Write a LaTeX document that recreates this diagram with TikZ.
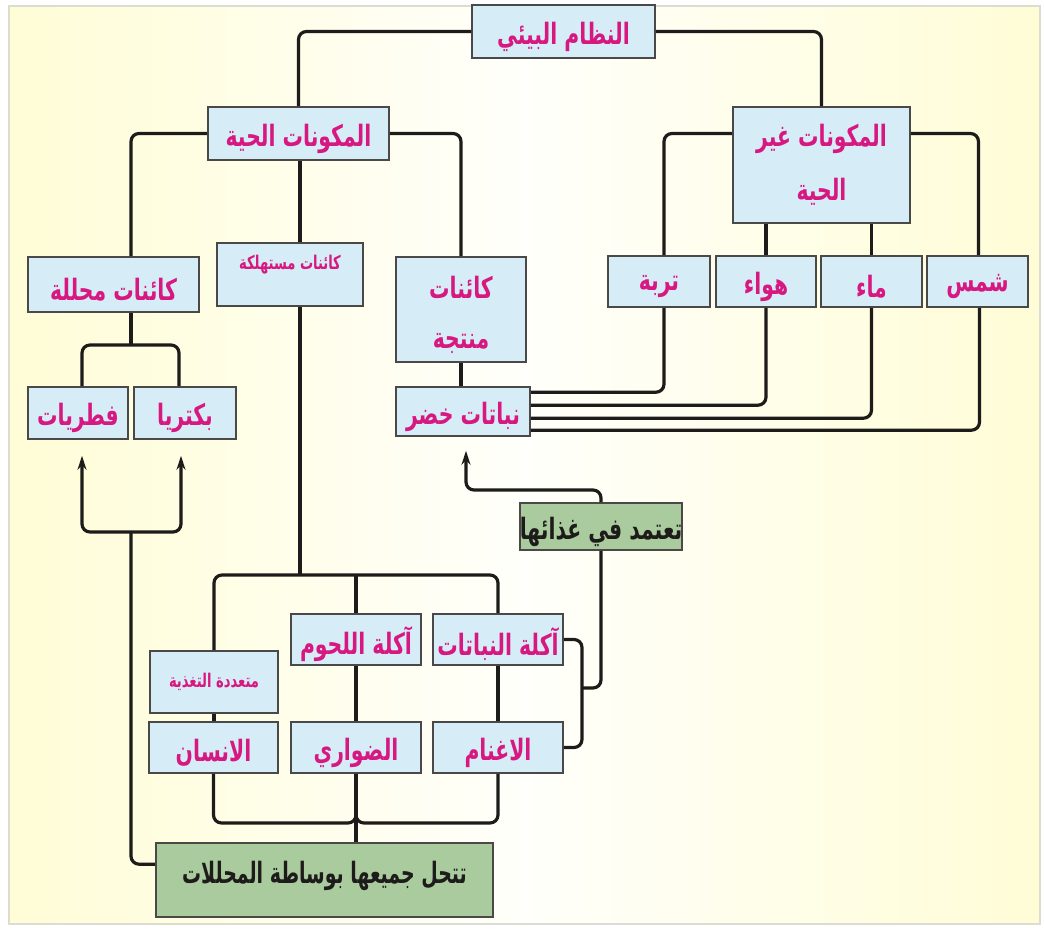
\documentclass[tikz,border=0pt]{standalone}
\usepackage{fontspec}
\usepackage{graphicx}
\newfontfamily\arabicfont[Script=Arabic]{DejaVu Sans}
\TeXXeTstate=1
\usetikzlibrary{arrows.meta,calc}
\definecolor{bgyel}{RGB}{255,253,214}
\definecolor{boxblue}{RGB}{214,236,247}
\definecolor{boxgreen}{RGB}{170,203,158}
\definecolor{txtmag}{RGB}{214,24,128}
\definecolor{linec}{RGB}{30,28,26}
\definecolor{framec}{RGB}{220,220,210}
% text with no vertical shift
\newcommand{\artxtn}[1]{\scalebox{0.97}[1.4]{\beginR #1\endR}}
% text lowered a little, as in the reference
\newcommand{\artxt}[1]{\raisebox{-5pt}[\height][\depth]{\artxtn{#1}}}
\tikzset{
  bx/.style={draw=linec!80, line width=1.6, fill=boxblue, text=txtmag,
    font=\arabicfont\bfseries\fontsize{21}{26}\selectfont, inner sep=0pt, align=center},
  smallbx/.style={bx, font=\arabicfont\bfseries\fontsize{13.5}{16}\selectfont},
  gbx/.style={bx, fill=boxgreen, text=linec},
  conn/.style={draw=linec, line width=3.2, rounded corners=8pt},
  arr/.style={conn, -{Stealth[length=14pt,width=9pt]}},
}
\begin{document}
\begin{tikzpicture}[x=1pt,y=-1pt]
\useasboundingbox (0,0) rectangle (1044,929);
\fill[white] (0,0) rectangle (1044,929);
\shade[left color=bgyel, right color=bgyel, middle color=bgyel!10!white] (9,6) rectangle (1040,924);
\draw[framec, line width=1.5] (9,6) rectangle (1040,924);

% top
\node[bx, minimum width=183, minimum height=53] (eco) at (563.5,31.5) {\artxt{النظام البيئي}};
\node[bx, minimum width=181, minimum height=53] (living) at (298.5,133.5) {\artxt{المكونات الحية}};
\node[bx, minimum width=177, minimum height=116] (nonliving) at (821.5,165) {\artxtn{المكونات غير}\\[24pt]\artxtn{الحية}};

% second level
\node[bx, minimum width=171, minimum height=55] (decomp) at (113.5,284.5) {\artxt{كائنات محللة}};
\node[smallbx, minimum width=146, minimum height=63] (consumer) at (290,274.5) {\raisebox{24pt}{\artxtn{كائنات مستهلكة}}};
\node[bx, minimum width=130, minimum height=105] (producer) at (461,309.5) {\artxt{كائنات}\\[24pt]\artxt{منتجة}};
\node[bx, minimum width=102, minimum height=51] (soil) at (659,281.5) {\artxt{تربة}};
\node[bx, minimum width=100, minimum height=51] (air) at (766,281.5) {\artxt{هواء}};
\node[bx, minimum width=101, minimum height=51] (water) at (871.5,281.5) {\artxt{ماء}};
\node[bx, minimum width=101, minimum height=51] (sun) at (977.5,281.5) {\artxt{شمس}};

% third level
\node[bx, minimum width=100, minimum height=52] (fungi) at (78,413) {\artxt{فطريات}};
\node[bx, minimum width=102, minimum height=52] (bact) at (185,413) {\artxt{بكتريا}};
\node[bx, minimum width=134, minimum height=49] (plants) at (463,411.5) {\artxt{نباتات خضر}};
\node[gbx, minimum width=154, minimum height=47] (depends) at (601,526.5) {\artxt{تعتمد في غذائها}};

% consumers
\node[bx, minimum width=130, minimum height=51] (carn) at (356,639.5) {\artxt{آكلة اللحوم}};
\node[bx, minimum width=130, minimum height=51] (herb) at (498,639.5) {\artxt{آكلة النباتات}};
\node[smallbx, minimum width=128, minimum height=62] (omni) at (214,682) {\artxtn{متعددة التغذية}};
\node[bx, minimum width=129, minimum height=51] (human) at (213.5,747.5) {\artxt{الانسان}};
\node[bx, minimum width=130, minimum height=51] (pred) at (356,747.5) {\artxt{الضواري}};
\node[bx, minimum width=130, minimum height=51] (sheep) at (498,747.5) {\artxt{الاغنام}};
\node[gbx, minimum width=337, minimum height=74] (decomposed) at (324.5,880) {\raisebox{16pt}{\scalebox{0.93}[1]{\artxtn{تتحل جميعها بوساطة المحللات}}}};

% helper coordinates
\coordinate (cx) at (300,0);
\coordinate (lx) at (131,0);
\coordinate (ybr1) at (0,345);
\coordinate (ybr2) at (0,532);
\coordinate (ybr3) at (0,575);
\coordinate (ybr4) at (0,823);
\coordinate (rbx) at (582,0);
\coordinate (ymid) at (0,688);
\coordinate (ydep) at (0,490);
\coordinate (soilN) at ($(soil.north)+(5,0)$);
\coordinate (soilS) at ($(soil.south)+(5,0)$);
\coordinate (sunN) at ($(sun.north)+(1,0)$);
\coordinate (sunS) at ($(sun.south)+(2,0)$);
\coordinate (pe1) at ($(plants.north east)+(0,6)$);
\coordinate (pe2) at ($(plants.north east)+(0,19)$);
\coordinate (pe3) at ($(plants.north east)+(0,32)$);
\coordinate (pe4) at ($(plants.north east)+(0,44)$);
\coordinate (fN) at ($(fungi.north)+(4,0)$);
\coordinate (bN) at ($(bact.north)+(-6,0)$);
\coordinate (fT) at ($(fungi.south)+(4,16)$);
\coordinate (bT) at ($(bact.south)+(-4,16)$);
\coordinate (dIn) at ($(decomposed.north west)+(0,22)$);
\coordinate (pT) at ($(plants.south)+(3,14)$);

% connectors top
\draw[conn] (eco.west) -| (living.north);
\draw[conn] (eco.east) -| (nonliving.north);
\draw[conn] (living.west) -| (decomp.north -| lx);
\draw[conn] (living.east) -| (producer.north);
\draw[conn] (living.south -| cx) -- (consumer.north -| cx);
\draw[conn] (nonliving.west |- living.west) -| (soilN);
\draw[conn] (nonliving.east |- living.east) -| (sunN);
\draw[conn] (air.north |- nonliving.south) -- (air.north);
\draw[conn] (water.north |- nonliving.south) -- (water.north);

% abiotic to plants
\draw[conn] (soilS) |- (pe1);
\draw[conn] (air.south) |- (pe2);
\draw[conn] (water.south) |- (pe3);
\draw[conn] (sunS) |- (pe4);
\draw[conn] (producer.south) -- (producer.south |- plants.north);

% decomposers
\draw[conn] (decomp.south -| lx) -- (lx |- ybr1);
\draw[conn] (fN) |- (lx |- ybr1) -| (bN);
\draw[arr] (lx |- ybr2) -| (fT);
\draw[arr] (lx |- ybr2) -| (bT);
\draw[conn] (lx |- ybr2) |- (dIn);

% consumers
\draw[conn] (consumer.south -| cx) -- (cx |- ybr3);
\draw[conn] (omni.north) |- (cx |- ybr3) -| (herb.north);
\draw[conn] (carn.north) -- (carn.north |- ybr3);
\draw[conn] (omni.south) -- (omni.south |- human.north);
\draw[conn] (carn.south) -- (pred.north);
\draw[conn] (herb.south) -- (sheep.north);
\draw[conn] (human.south) |- (pred.south |- ybr4) -- (pred.south);
\draw[conn] (sheep.south) |- (pred.south |- ybr4) -- (pred.south);
\draw[conn] (pred.south) -- (pred.south |- decomposed.north);

% herbivores depend on plants
\draw[conn] (herb.east) -| (rbx |- sheep.east) -- (sheep.east);
\draw[conn] (rbx |- ymid) -| (depends.south);
\draw[arr] (depends.north) |- (pT |- ydep) -- (pT);
\end{tikzpicture}
\end{document}
